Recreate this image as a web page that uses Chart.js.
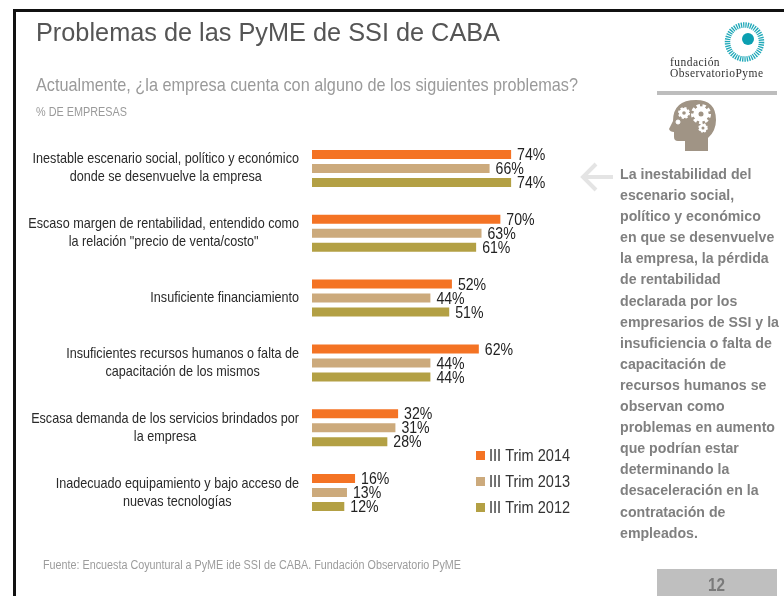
<!DOCTYPE html>
<html lang="es">
<head>
<meta charset="utf-8">
<script src="https://cdn.jsdelivr.net/npm/chart.js@4"></script>
<style>
html,body{margin:0;padding:0;background:#fff;}
#page{position:relative;width:784px;height:596px;overflow:hidden;background:#fff;font-family:"Liberation Sans",sans-serif;}
#page>*{position:absolute;}
#chart{left:0;top:0;}
.t{white-space:pre;transform-origin:0 0;}
</style>
</head>
<body>
<div id="page">
<canvas id="chart" width="784" height="596"></canvas>
<div style="left:13px;top:9px;width:771px;height:3px;background:#111"></div>
<div style="left:13px;top:9px;width:3px;height:587px;background:#111"></div>
<div class="t" data-w="464" style="left:36px;top:18px;font:25px 'Liberation Sans';color:#555">Problemas de las PyME de SSI de CABA</div>
<div class="t" data-w="542" style="left:36px;top:74px;font:19px 'Liberation Sans';color:#9a9a9a">Actualmente, ¿la empresa cuenta con alguno de los siguientes problemas?</div>
<div class="t" data-w="91" style="left:36px;top:105px;font:12px 'Liberation Sans';color:#9a9a9a">% DE EMPRESAS</div>
<div class="t" data-w="418" style="left:43px;top:558px;font:12px 'Liberation Sans';color:#9c9c9c">Fuente: Encuesta Coyuntural a PyME ide SSI de CABA. Fundación Observatorio PyME</div>
<svg style="left:560px;top:0" width="224" height="200" viewBox="0 0 224 200">
<circle cx="184.5" cy="42" r="17" fill="none" stroke="#1fa8b8" stroke-width="5.5" stroke-dasharray="1.3 1"/>
<circle cx="188" cy="39" r="6" fill="#0b9fb1"/>
<rect x="97" y="91" width="120" height="4" fill="#bdbdbd"/>
<path d="M148 151L125 151L125 141L118 141Q114 141 114 137L114 132Q110 132 109 129L113 121Q113 100 136 100Q156 100 156 120Q156 131 148 138Z" fill="#a09485"/>
<g fill="#fff" stroke="#fff">
<circle cx="141" cy="114" r="7.5" stroke-width="5" stroke-dasharray="3 2.2"/><circle cx="141" cy="114" r="7"/>
<circle cx="124" cy="113" r="4.5" stroke-width="3" stroke-dasharray="2 1.5"/><circle cx="124" cy="113" r="4.5"/>
<circle cx="143" cy="128" r="3.5" stroke-width="2.5" stroke-dasharray="1.6 1.2"/><circle cx="143" cy="128" r="3.5"/>
<circle cx="118" cy="122" r="2"/></g>
<g fill="#a09485"><circle cx="141" cy="114" r="2.5"/><circle cx="124" cy="113" r="1.8"/><circle cx="143" cy="128" r="1.5"/></g>
<path d="M53 177H23M36 164L23 177L36 190" fill="none" stroke="#e4e4e4" stroke-width="4"/>
</svg>
<div class="t" style="left:670px;top:57px;font:11.5px/11px 'Liberation Serif';letter-spacing:.45px;color:#333">fundación
ObservatorioPyme</div>
<div class="t" data-w="159" style="left:620px;top:163px;font:bold 15.5px/21.1px 'Liberation Sans';color:#808080">La inestabilidad del
escenario social,
político y económico
en que se desenvuelve
la empresa, la pérdida
de rentabilidad
declarada por los
empresarios de SSI y la
insuficiencia o falta de
capacitación de
recursos humanos se
observan como
problemas en aumento
que podrían estar
determinando la
desaceleración en la
contratación de
empleados.</div>
<div style="left:657px;top:569px;width:120px;height:27px;background:#bfbfbf"></div>
<div class="t" data-w="17" style="left:708px;top:575px;font:bold 18px 'Liberation Sans';color:#7a7a7a">12</div>
</div>
<script>
const categories = [
  ["Inestable escenario social, político y económico","donde se desenvuelve la empresa"],
  ["Escaso margen de rentabilidad, entendido como","la relación \"precio de venta/costo\""],
  ["Insuficiente financiamiento"],
  ["Insuficientes recursos humanos o falta de","capacitación de los mismos"],
  ["Escasa demanda de los servicios brindados por","la empresa"],
  ["Inadecuado equipamiento y bajo acceso de","nuevas tecnologías"]
];
const trim2014 = [74,70,52,62,32,16];
const trim2013 = [66,63,44,44,31,13];
const trim2012 = [74,61,51,44,28,12];
const seriesNames = ["III Trim 2014","III Trim 2013","III Trim 2012"];
const seriesColors = ["#f47324","#ccaa7c","#b3a044"];

document.querySelectorAll('.t[data-w]').forEach(el=>{
  el.style.transform='scaleX('+(+el.dataset.w/el.getBoundingClientRect().width)+')';
});

function squeezed(g,text,x,y,align,sx){
  g.save();
  g.translate(x,y); g.scale(sx,1);
  g.textAlign=align; g.fillText(text,0,0);
  g.restore();
}
const annotate = {
  id:'annotate',
  afterDatasetsDraw(c){
    const g=c.ctx, y=c.scales.y;
    g.save();
    g.textBaseline='middle';
    // category labels: each block centred on itself, blocks right-aligned to the axis
    g.font="14.5px 'Liberation Sans'"; g.fillStyle='#2a2a2a';
    const right=y.right-13, TICK_SX=0.87;
    categories.forEach((lines,i)=>{
      const w=Math.max(...lines.map(s=>g.measureText(s).width))*TICK_SX;
      const cy=y.getPixelForTick(i), lh=18;
      lines.forEach((s,k)=>squeezed(g,s,right-w/2,cy+(k-(lines.length-1)/2)*lh,'center',TICK_SX));
    });
    // value labels
    g.font="17px 'Liberation Sans'"; g.fillStyle='#222';
    c.data.datasets.forEach((d,di)=>{
      c.getDatasetMeta(di).data.forEach((b,i)=>squeezed(g,d.data[i]+'%',b.x+6,b.y+1,'left',0.83));
    });
    // legend
    const lx=476, ly=[451,477,503];
    c.data.datasets.forEach((d,di)=>{
      g.fillStyle=d.backgroundColor; g.fillRect(lx,ly[di],9,9);
      g.fillStyle='#333'; squeezed(g,d.label,lx+13,ly[di]+5,'left',0.855);
    });
    g.restore();
  }
};
new Chart(document.getElementById('chart'),{
  type:'bar',
  data:{
    labels:categories,
    datasets:[trim2014,trim2013,trim2012].map((v,i)=>({label:seriesNames[i],data:v,backgroundColor:seriesColors[i],
      categoryPercentage:0.648,barPercentage:0.643}))
  },
  options:{
    indexAxis:'y',responsive:false,animation:false,
    layout:{padding:{left:0,right:204,top:136,bottom:71}},
    plugins:{legend:{display:false},tooltip:{enabled:false}},
    scales:{
      x:{min:0,max:99.6,display:false},
      y:{grid:{display:false},border:{display:false},ticks:{display:false},afterFit(s){s.width=312;}}
    }
  },
  plugins:[annotate]
});
</script>
</body>
</html>
